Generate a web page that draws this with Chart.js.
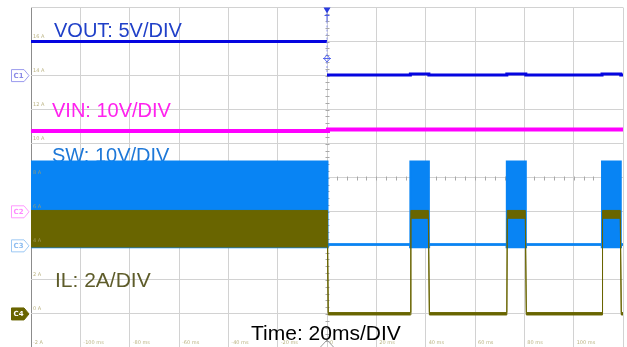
<!DOCTYPE html>
<html>
<head>
<meta charset="utf-8">
<script src="https://cdn.jsdelivr.net/npm/chart.js@4.4.1/dist/chart.umd.min.js"></script>
<style>
html, body { margin: 0; padding: 0; background: #fff; overflow: hidden; }
#wrap { position: relative; width: 627px; height: 350px; }
</style>
</head>
<body>
<div id="wrap"><canvas id="scope"></canvas></div>
<script>
// time in ms, levels in grid units (IL scale, 2 A per division)
const voutTime  = [-120, 0, 0, 33.8, 33.8, 41.3, 41.3, 72.9, 72.9, 80.6, 80.6, 111.5, 111.5, 119.1, 119.1, 120];
const voutLevel = [16.0, 16.0, 14.04, 14.04, 14.1, 14.1, 14.04, 14.04, 14.1, 14.1, 14.04, 14.04, 14.1, 14.1, 14.04, 14.04];

const vinTime  = [-120, 0, 0.4, 120];
const vinLevel = [10.75, 10.75, 10.84, 10.84];

const swTime = [-120, 0.2, 0.2, 33.8, 33.8, 41.3, 41.3, 72.9, 72.9, 80.6, 80.6, 111.5, 111.5, 119.1, 119.1, 120];
const swHigh = [8.95, 8.95, 4.08, 4.08, 8.95, 8.95, 4.08, 4.08, 8.95, 8.95, 4.08, 4.08, 8.95, 8.95, 4.08, 4.08];
const swLow  = [3.93, 3.93, 4.08, 4.08, 3.93, 3.93, 4.08, 4.08, 3.93, 3.93, 4.08, 4.08, 3.93, 3.93, 4.08, 4.08];

const ilTime = [-120, 0.2, 0.5, 33.8, 34.0, 41.1, 41.5, 72.9, 73.1, 80.4, 80.8, 111.5, 111.7, 118.9, 119.3, 120];
const ilHigh = [6.08, 6.08, 0.08, 0.08, 6.08, 6.08, 0.08, 0.08, 6.08, 6.08, 0.08, 0.08, 6.08, 6.08, 0.08, 0.08];
const ilLow  = [3.93, 3.93, -0.06, -0.06, 5.62, 5.62, -0.06, -0.06, 5.62, 5.62, -0.06, -0.06, 5.62, 5.62, -0.06, -0.06];

const xTickValues = [-100, -80, -60, -40, -20, 0, 20, 40, 60, 80, 100];
const xTickLabels = ['-100 ms', '-80 ms', '-60 ms', '-40 ms', '-20 ms', '0', '20 ms', '40 ms', '60 ms', '80 ms', '100 ms'];
const yTickValues = [-2, 0, 2, 4, 6, 8, 10, 12, 14, 16];
const yTickLabels = ['-2 A', '0 A', '2 A', '4 A', '6 A', '8 A', '10 A', '12 A', '14 A', '16 A'];

const channelTags = ['C1', 'C2', 'C3', 'C4'];
const channelOffsets = [14, 6, 4, 0];

const pts = (xs, ys) => xs.map((x, i) => ({ x, y: ys[i] }));

const SW_COL = '#0884f4', IL_COL = '#696500', VOUT_COL = '#0505e0', VIN_COL = '#ff00ff';

const scopeDecor = {
    id: 'scopeDecor',
    beforeDatasetsDraw(chart) {
        const { ctx, chartArea: a, scales: { x, y } } = chart;
        ctx.save();
        // minor ticks on the centre cross
        ctx.strokeStyle = '#a8a8a8';
        ctx.lineWidth = 1;
        const cx = Math.round(x.getPixelForValue(0)) + 0.5, cy = Math.round(y.getPixelForValue(8)) + 0.5;
        const stepY = (y.getPixelForValue(0) - y.getPixelForValue(2)) / 5;
        const stepX = (x.getPixelForValue(20) - x.getPixelForValue(0)) / 5;
        ctx.beginPath();
        for (let p = a.top; p <= a.bottom; p += stepY) { ctx.moveTo(cx - 2, Math.round(p) + 0.5); ctx.lineTo(cx + 2, Math.round(p) + 0.5); }
        for (let p = a.left; p <= a.right; p += stepX) { ctx.moveTo(Math.round(p) + 0.5, cy - 2); ctx.lineTo(Math.round(p) + 0.5, cy + 2); }
        ctx.stroke();

        // channel captions (under the traces)
        const cap = (txt, col, px, py, size) => {
            ctx.font = size + 'px "Liberation Sans", Arial, sans-serif';
            ctx.fillStyle = col;
            ctx.textBaseline = 'alphabetic';
            ctx.fillText(txt, px, py);
        };
        cap('VOUT: 5V/DIV', '#2040c8', 54, 36.5, 20);
        cap('VIN: 10V/DIV', '#ff22ee', 52, 117, 20);
        cap('SW: 10V/DIV', '#1e78d8', 52, 162, 20);
        cap('IL: 2A/DIV', '#5e5c2a', 55, 287, 21);
        ctx.restore();
    },
    afterDatasetsDraw(chart) {
        const { ctx, chartArea: a, scales: { x, y } } = chart;
        ctx.save();
        // tiny grid labels
        ctx.font = '5px "DejaVu Sans", sans-serif';
        ctx.fillStyle = 'rgba(170,160,100,0.8)';
        ctx.textBaseline = 'alphabetic';
        yTickValues.forEach((v, i) => ctx.fillText(yTickLabels[i], a.left + 2, y.getPixelForValue(v) - 4));
        xTickValues.forEach((v, i) => ctx.fillText(xTickLabels[i], x.getPixelForValue(v) + 3, a.bottom - 4));

        // time caption
        ctx.font = '21px "Liberation Sans", Arial, sans-serif';
        ctx.fillStyle = '#000';
        ctx.fillText('Time: 20ms/DIV', 251, 340);

        // trigger marker
        const tx = x.getPixelForValue(0);
        ctx.fillStyle = '#2a3be0';
        ctx.beginPath();
        ctx.moveTo(tx - 3.5, a.top); ctx.lineTo(tx + 3.5, a.top); ctx.lineTo(tx, a.top + 6); ctx.closePath();
        ctx.fill();
        ctx.strokeStyle = '#4a5be8';
        ctx.lineWidth = 1;
        ctx.beginPath();
        ctx.moveTo(tx - 2.5, a.top + 8); ctx.lineTo(tx + 2.5, a.top + 8);
        ctx.moveTo(tx, a.top + 6); ctx.lineTo(tx, a.top + 14);
        ctx.stroke();
        ctx.setLineDash([2, 2]);
        ctx.strokeStyle = '#8a94ee';
        ctx.beginPath(); ctx.moveTo(tx, a.top + 14); ctx.lineTo(tx, 55); ctx.moveTo(tx, 62); ctx.lineTo(tx, 73); ctx.stroke();
        ctx.setLineDash([]);
        ctx.strokeStyle = '#5566ee';
        ctx.beginPath();
        ctx.moveTo(tx, 55); ctx.lineTo(tx + 3, 58.5); ctx.lineTo(tx, 62); ctx.lineTo(tx - 3, 58.5); ctx.closePath();
        ctx.moveTo(tx - 4, 58.5); ctx.lineTo(tx + 4, 58.5);
        ctx.stroke();

        // trigger position marker at the bottom
        ctx.strokeStyle = '#9a9a9a';
        ctx.beginPath();
        ctx.moveTo(tx - 6.5, 347); ctx.lineTo(tx, 340); ctx.lineTo(tx + 6.5, 347);
        ctx.stroke();

        // channel offset tags
        const tagStyle = [
            { stroke: '#9a9aee', fill: '#fff', text: '#8a8ae6' },
            { stroke: '#ff99ff', fill: '#fff', text: '#ff88ff' },
            { stroke: '#9cc8f4', fill: '#fff', text: '#8cbcf0' },
            { stroke: IL_COL, fill: IL_COL, text: '#fff' }
        ];
        channelTags.forEach((tag, i) => {
            const ty = y.getPixelForValue(channelOffsets[i]);
            const s = tagStyle[i];
            ctx.beginPath();
            ctx.moveTo(11.5, ty - 6); ctx.lineTo(24, ty - 6); ctx.lineTo(29, ty); ctx.lineTo(24, ty + 6); ctx.lineTo(11.5, ty + 6); ctx.closePath();
            ctx.fillStyle = s.fill; ctx.fill();
            ctx.strokeStyle = s.stroke; ctx.lineWidth = 1; ctx.stroke();
            ctx.font = 'bold 7px "DejaVu Sans", sans-serif';
            ctx.fillStyle = s.text;
            ctx.fillText(tag, 13.5, ty + 2.5);
        });
        ctx.restore();
    }
};

// the VOUT step at the trigger is not drawn as a solid edge on the scope
const hideTriggerEdge = c => (c.p0.parsed.x === 0 && c.p1.parsed.x === 0) ? 'rgba(0,0,0,0)' : undefined;

new Chart(document.getElementById('scope').getContext('2d'), {
    type: 'line',
    data: {
        datasets: [
            { label: 'SW low', data: pts(swTime, swLow), borderColor: SW_COL, borderWidth: 2.5, fill: false, order: 6 },
            { label: 'SW', data: pts(swTime, swHigh), borderColor: SW_COL, backgroundColor: SW_COL, borderWidth: 2, fill: '-1', order: 5 },
            { label: 'IL low', data: pts(ilTime, ilLow), borderColor: IL_COL, borderWidth: 1, fill: false, order: 4 },
            { label: 'IL', data: pts(ilTime, ilHigh), borderColor: IL_COL, backgroundColor: IL_COL, borderWidth: 1, fill: '-1', order: 3 },
            { label: 'VIN', data: pts(vinTime, vinLevel), borderColor: VIN_COL, borderWidth: 4, fill: false, order: 2 },
            { label: 'VOUT', data: pts(voutTime, voutLevel), borderColor: VOUT_COL, borderWidth: 3, fill: false, order: 1,
              segment: { borderColor: hideTriggerEdge } }
        ]
    },
    options: {
        responsive: true, maintainAspectRatio: false, animation: false,
        layout: { padding: { left: 31, top: 7.5, right: 4, bottom: 2 } },
        elements: { point: { radius: 0 }, line: { tension: 0, borderJoinStyle: 'miter' } },
        plugins: { legend: { display: false }, tooltip: { enabled: false } },
        scales: {
            x: {
                type: 'linear', min: -120, max: 120,
                ticks: { display: false, stepSize: 20 },
                grid: { drawTicks: false, color: c => c.tick && c.tick.value === -120 ? '#8c8c8c' : '#d2d2d2' },
                border: { display: false }
            },
            y: {
                min: -2, max: 18,
                ticks: { display: false, stepSize: 2 },
                grid: { drawTicks: false, color: '#d2d2d2' },
                border: { display: false }
            }
        }
    },
    plugins: [scopeDecor]
});
</script>
</body>
</html>
